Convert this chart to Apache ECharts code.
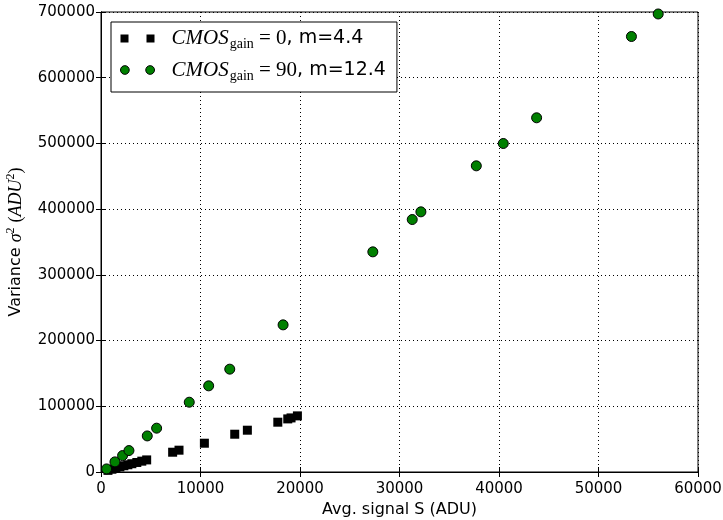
<!DOCTYPE html>
<html>
<head>
<meta charset="utf-8">
<script src="https://cdn.jsdelivr.net/npm/echarts@6/dist/echarts.min.js"></script>
<style>
html,body{margin:0;padding:0;background:#fff;}
#chart{width:723px;height:520px;}
</style>
</head>
<body>
<div id="chart"></div>
<script>
// Series 1: CMOS gain = 0 (black squares)
const gain0X = [700, 1100, 1500, 1900, 2300, 2700, 3100, 3600, 4100, 4590, 7200, 7840, 10390, 13440, 14710, 17770, 18770, 19100, 19740];
const gain0Y = [2500, 4200, 6000, 7800, 9500, 11000, 12600, 14500, 16500, 18400, 30100, 33200, 43800, 57500, 63600, 75800, 80800, 82300, 85400];
// Series 2: CMOS gain = 90 (green circles)
const gain90X = [560, 1400, 2170, 2810, 4650, 5590, 8870, 10820, 12940, 18300, 27320, 31280, 32150, 37720, 40430, 43780, 53310, 56000];
const gain90Y = [4700, 15400, 25000, 32600, 54900, 66700, 106200, 131100, 156500, 223900, 335000, 384200, 395900, 465900, 499900, 539000, 662700, 697000];
const seriesNames = ['gain0', 'gain90'];
const legendLabels = {
  gain0: '{i|CMOS}{sub|gain}{r| = 0}{t|, m=4.4}',
  gain90: '{i|CMOS}{sub|gain}{r| = 90}{t|, m=12.4}'
};
const xTicks = {min: 0, max: 60000, interval: 10000};
const yTicks = {min: 0, max: 700000, interval: 100000};
const xLabel = 'Avg. signal S (ADU)';
const yLabel = '{t|Variance }{i|σ}{sup|2}{t| }{r|(}{i|ADU}{sup|2}{r|)}';

function pairs(xs, ys){ return xs.map((x,i)=>[x, ys[i]]); }

const chart = echarts.init(document.getElementById('chart'), null, {renderer:'canvas'});
const sans = 'DejaVu Sans';
const serif = 'Liberation Serif';
const tickStyle = {show:true, inside:true, length:5, lineStyle:{color:'#000', width:1}};
const splitStyle = {show:true, lineStyle:{color:'#000', width:1, type:[1,3]}};
const plain = (v)=>String(v);

const squaresPath = 'path://M0,0h8v8h-8z M26,0h8v8h-8z';
const circlesPath = 'path://M0,4.5a4.5,4.5 0 1,0 9,0a4.5,4.5 0 1,0 -9,0z M26,4.5a4.5,4.5 0 1,0 9,0a4.5,4.5 0 1,0 -9,0z';

chart.setOption({
  animation:false,
  backgroundColor:'#fff',
  grid:{left:101, right:25, top:12, bottom:48, show:true, borderColor:'#000', borderWidth:1,
        containLabel:false, outerBoundsMode:'none'},
  legend:{
    left:111, top:22, orient:'vertical',
    backgroundColor:'#fff', borderColor:'#000', borderWidth:1,
    padding:[6, 11, 9, 9], itemGap:8, itemWidth:34, itemHeight:9,
    data:[
      {name:'gain0', icon:squaresPath, itemStyle:{color:'#000', borderWidth:0}},
      {name:'gain90', icon:circlesPath, itemStyle:{color:'#008000', borderColor:'#000', borderWidth:1}}
    ],
    formatter:(n)=>legendLabels[n],
    textStyle:{
      padding:[0,0,0,12],
      rich:{
        i:{fontFamily:serif, fontStyle:'italic', fontSize:21, color:'#000', lineHeight:26, verticalAlign:'middle'},
        sub:{fontFamily:serif, fontSize:14, color:'#000', verticalAlign:'bottom', lineHeight:26, padding:[0,0,0,1]},
        r:{fontFamily:serif, fontSize:21, color:'#000', lineHeight:26, verticalAlign:'middle'},
        t:{fontFamily:sans, fontSize:19, color:'#000', lineHeight:26, verticalAlign:'middle'}
      }
    }
  },
  xAxis:[
    {type:'value', min:xTicks.min, max:xTicks.max, interval:xTicks.interval, position:'bottom',
     name:xLabel, nameLocation:'middle', nameGap:28,
     nameTextStyle:{fontFamily:sans, fontSize:16, color:'#000'},
     axisLine:{show:true, lineStyle:{color:'#000', width:1}},
     axisTick:tickStyle, splitLine:splitStyle,
     axisLabel:{fontFamily:sans, fontSize:15, color:'#000', margin:10, formatter:plain}},
    {type:'value', min:xTicks.min, max:xTicks.max, interval:xTicks.interval, position:'top',
     axisLine:{show:true, lineStyle:{color:'#000', width:1}},
     axisTick:tickStyle, splitLine:{show:false}, axisLabel:{show:false}}
  ],
  yAxis:[
    {type:'value', min:yTicks.min, max:yTicks.max, interval:yTicks.interval, position:'left',
     name:yLabel, nameLocation:'middle', nameGap:74, nameRotate:90,
     nameTextStyle:{
       rich:{
         t:{fontFamily:sans, fontSize:16, color:'#000', lineHeight:22, verticalAlign:'middle'},
         i:{fontFamily:serif, fontStyle:'italic', fontSize:18, color:'#000', lineHeight:22, verticalAlign:'middle'},
         r:{fontFamily:serif, fontSize:18, color:'#000', lineHeight:22, verticalAlign:'middle'},
         sup:{fontFamily:serif, fontSize:12, color:'#000', lineHeight:22, verticalAlign:'top'}
       }
     },
     axisLine:{show:true, lineStyle:{color:'#000', width:1}},
     axisTick:tickStyle, splitLine:splitStyle,
     axisLabel:{fontFamily:sans, fontSize:15, color:'#000', margin:6, formatter:plain}},
    {type:'value', min:yTicks.min, max:yTicks.max, interval:yTicks.interval, position:'right',
     axisLine:{show:true, lineStyle:{color:'#000', width:1}},
     axisTick:tickStyle, splitLine:{show:false}, axisLabel:{show:false}}
  ],
  series:[
    {name:seriesNames[0], type:'scatter', xAxisIndex:0, yAxisIndex:0, symbol:'rect', symbolSize:9,
     itemStyle:{color:'#000', opacity:1}, data:pairs(gain0X, gain0Y), z:3},
    {name:seriesNames[1], type:'scatter', xAxisIndex:0, yAxisIndex:0, symbol:'circle', symbolSize:10,
     itemStyle:{color:'#008000', borderColor:'#000', borderWidth:1, opacity:1}, data:pairs(gain90X, gain90Y), z:4}
  ]
});
</script>
</body>
</html>
